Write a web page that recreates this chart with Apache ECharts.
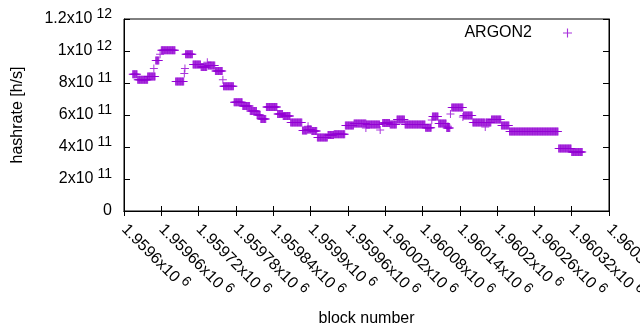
<!DOCTYPE html>
<html>
<head>
<meta charset="utf-8">
<script src="https://cdn.jsdelivr.net/npm/echarts@6/dist/echarts.min.js"></script>
<style>
  html, body { margin: 0; padding: 0; background: #fff; }
  #main { width: 640px; height: 330px; }
</style>
</head>
<body>
<div id="main"></div>
<script>
// runs of constant hashrate, one point per block (values in 1e11 h/s)
var runStart = [1959614, 1959622, 1959638, 1959648, 1959651, 1959658, 1959660, 1959683, 1959697, 1959698,
  1959699, 1959711, 1959724, 1959734, 1959735, 1959747, 1959759, 1959760, 1959777, 1959791,
  1959803, 1959814, 1959820, 1959829, 1959847, 1959856, 1959868, 1959887, 1959895, 1959896,
  1959902, 1959911, 1959928, 1959938, 1959956, 1959970, 1959989, 1959990, 1960012, 1960016,
  1960028, 1960039, 1960052, 1960085, 1960095, 1960096, 1960106, 1960119, 1960121, 1960125,
  1960127, 1960145, 1960146, 1960161, 1960181, 1960182, 1960191, 1960207, 1960220, 1960299,
  1960320];
var runEnd = [1959621, 1959638, 1959650, 1959648, 1959656, 1959658, 1959682, 1959696, 1959697, 1959698,
  1959710, 1959723, 1959733, 1959734, 1959746, 1959758, 1959759, 1959776, 1959790, 1959802,
  1959813, 1959819, 1959828, 1959846, 1959855, 1959867, 1959886, 1959894, 1959901, 1959896,
  1959910, 1959927, 1959937, 1959955, 1959969, 1959989, 1959989, 1960011, 1960012, 1960027,
  1960038, 1960051, 1960084, 1960094, 1960095, 1960105, 1960118, 1960124, 1960121, 1960125,
  1960145, 1960145, 1960160, 1960180, 1960181, 1960190, 1960206, 1960219, 1960298, 1960319,
  1960337];
var runValue = [8.55, 8.2, 8.4, 8.9, 9.4, 9.8, 10.05, 8.1, 8.6, 8.9,
  9.8, 9.15, 9.0, 9.3, 9.1, 8.75, 8.2, 7.8, 6.8, 6.56,
  6.25, 6.0, 5.75, 6.5, 6.06, 5.94, 5.53, 5.03, 5.1, 5.3,
  5.0, 4.6, 4.75, 4.8, 5.35, 5.47, 5.19, 5.4, 5.06, 5.5,
  5.4, 5.72, 5.4, 5.2, 5.69, 5.9, 5.47, 5.19, 5.3, 6.06,
  6.47, 5.87, 5.97, 5.53, 5.25, 5.53, 5.72, 5.34, 4.97, 3.9,
  3.69];

var xLabels = ['1.9596x10{s|6}', '1.95966x10{s|6}', '1.95972x10{s|6}', '1.95978x10{s|6}', '1.95984x10{s|6}',
  '1.9599x10{s|6}', '1.95996x10{s|6}', '1.96002x10{s|6}', '1.96008x10{s|6}', '1.96014x10{s|6}',
  '1.9602x10{s|6}', '1.96026x10{s|6}', '1.96032x10{s|6}', '1.96038x10{s|6}'];
var yLabels = ['0', '2x10{s|11}', '4x10{s|11}', '6x10{s|11}', '8x10{s|11}', '1x10{s|12}', '1.2x10{s|12}'];

var points = [];
for (var r = 0; r < runStart.length; r++) {
  for (var b = runStart[r]; b <= runEnd[r]; b++) {
    points.push([b, runValue[r] * 1e11]);
  }
}

var plus = 'path://M-0.5,-4L0.5,-4L0.5,4L-0.5,4ZM-4,-0.5L4,-0.5L4,0.5L-4,0.5Z';
var font = 'Liberation Sans, Arial, sans-serif';
var rich = { s: { fontSize: 14, padding: [0, 0, 10, 4], fontFamily: font, color: '#000' } };

var chart = echarts.init(document.getElementById('main'));
var option = {
  animation: false,
  backgroundColor: '#fff',
  textStyle: { fontFamily: font },
  grid: {
    left: 124, right: 31, top: 19, bottom: 119,
    outerBoundsMode: 'none',
    containLabel: false,
    show: true, borderColor: '#000', borderWidth: 1
  },
  legend: {
    right: 63, top: 20,
    align: 'right',
    itemWidth: 9, itemHeight: 9,
    textStyle: { fontSize: 16, color: '#000', fontFamily: font, padding: [0, 26, 0, 0] },
    data: [{ name: 'ARGON2', icon: plus }]
  },
  xAxis: [{
    type: 'value',
    min: 1959600, max: 1960380, interval: 60,
    name: 'block number',
    nameLocation: 'middle',
    nameGap: 100,
    nameTextStyle: { fontSize: 16, color: '#000' },
    axisLine: { lineStyle: { color: '#000' } },
    axisTick: { inside: true, length: 5, lineStyle: { color: '#000' } },
    splitLine: { show: false },
    axisLabel: {
      rotate: -45, margin: 16, fontSize: 16, color: '#000',
      showMaxLabel: true, showMinLabel: true, hideOverlap: false,
      formatter: function (v, i) { return xLabels[i]; },
      rich: rich
    }
  }, {
    type: 'value', position: 'top',
    min: 1959600, max: 1960380, interval: 60,
    axisLine: { lineStyle: { color: '#000' } },
    axisTick: { inside: true, length: 5, lineStyle: { color: '#000' } },
    axisLabel: { show: false },
    splitLine: { show: false }
  }],
  yAxis: [{
    type: 'value',
    min: 0, max: 1.2e12, interval: 2e11,
    name: 'hashrate [h/s]',
    nameLocation: 'middle',
    nameGap: 98,
    nameTextStyle: { fontSize: 16, color: '#000' },
    axisLine: { show: true, lineStyle: { color: '#000' } },
    axisTick: { show: true, inside: true, length: 6, lineStyle: { color: '#000' } },
    splitLine: { show: false },
    axisLabel: {
      margin: 12, fontSize: 16, color: '#000',
      formatter: function (v, i) { return yLabels[i]; },
      rich: rich
    }
  }, {
    type: 'value', position: 'right',
    min: 0, max: 1.2e12, interval: 2e11,
    axisLine: { show: true, lineStyle: { color: '#000' } },
    axisTick: { show: true, inside: true, length: 6, lineStyle: { color: '#000' } },
    axisLabel: { show: false },
    splitLine: { show: false }
  }],
  series: [{
    name: 'ARGON2',
    type: 'scatter',
    symbol: plus,
    symbolSize: 8,
    itemStyle: { color: '#9400d3' },
    data: points
  }]
};
chart.setOption(option);
</script>
</body>
</html>
